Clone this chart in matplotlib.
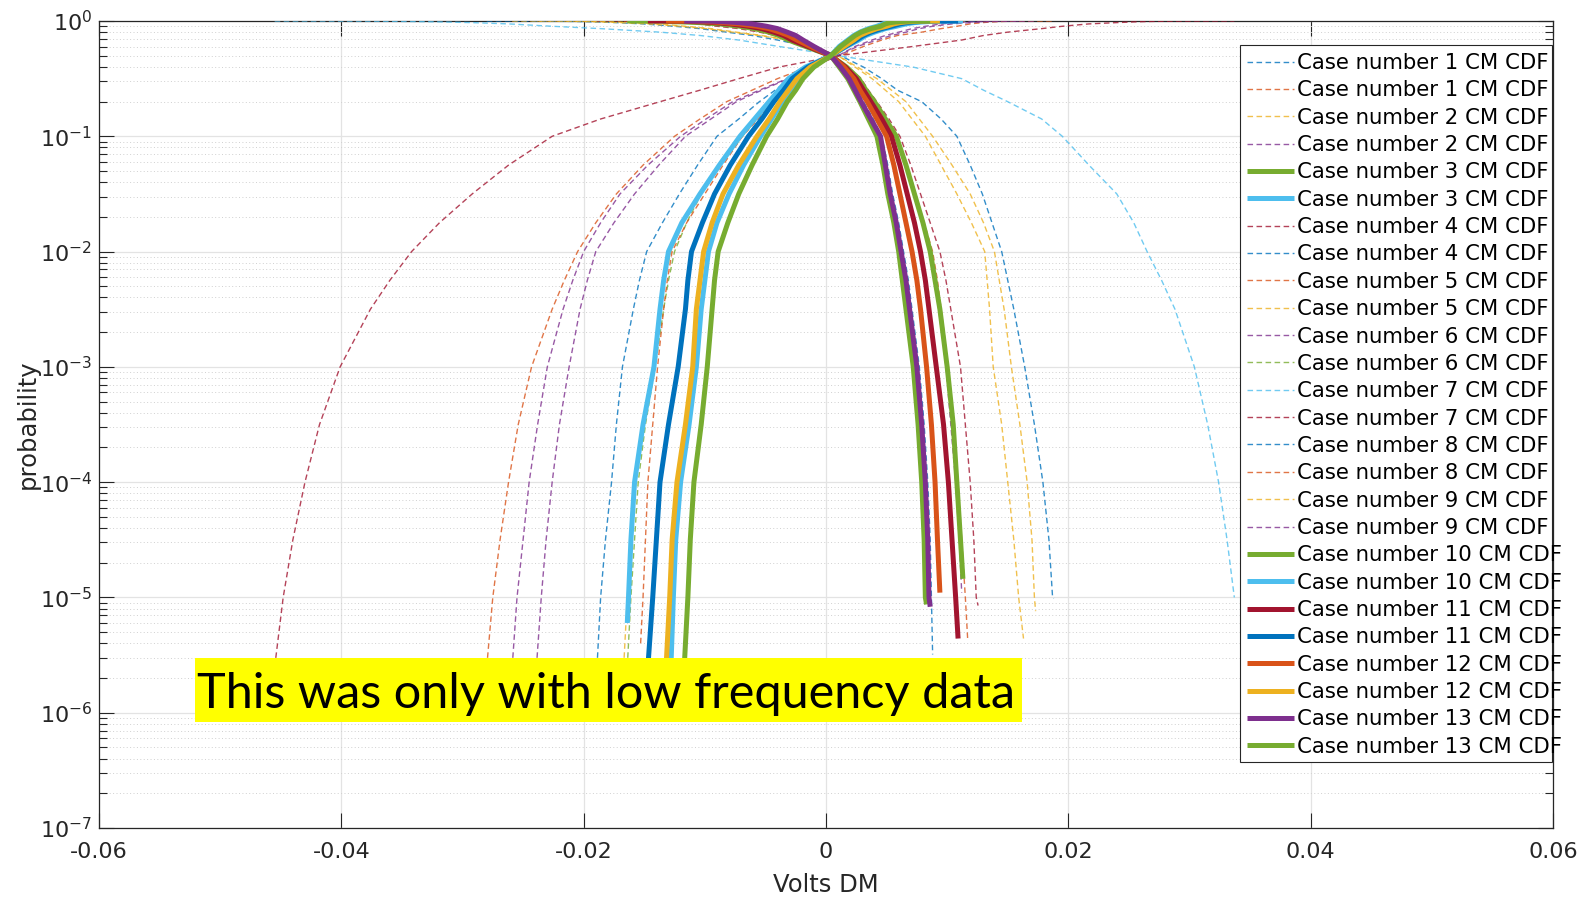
import numpy as np
import matplotlib

matplotlib.use("Agg")
import matplotlib.pyplot as plt
from matplotlib.patches import Rectangle
from matplotlib.ticker import FixedLocator, FuncFormatter, LogLocator, NullFormatter

# Each case is one empirical CDF: the "falling" line is 1-F, the "rising" one is F.
# Tails are read off the plot at fixed log10 probability levels.
CASES = list(range(1, 14))
LOG_LEVELS = [-5, -4.5, -4, -3.5, -3, -2.5, -2.25, -2, -1.75, -1.5, -1.25,
              -1, -0.85, -0.7, -0.6, -0.5, -0.4]

# x where F = 10**L (left tail, rising curve)
LOWER_TAIL_X = [
    [-0.0275, -0.0269, -0.0262, -0.0254, -0.0243, -0.0226, -0.0216, -0.0205, -0.0190, -0.0173, -0.0151, -0.0125, -0.0104, -0.0082, -0.0061, -0.0040, -0.0015],
    [-0.0255, -0.0250, -0.0245, -0.0238, -0.0230, -0.0217, -0.0209, -0.0200, -0.0186, -0.0170, -0.0147, -0.0120, -0.0099, -0.0077, -0.0055, -0.0032, -0.0013],
    [-0.0126, -0.0124, -0.0120, -0.0113, -0.0107, -0.0103, -0.0100, -0.0097, -0.0090, -0.0080, -0.0068, -0.0054, -0.0045, -0.0036, -0.0029, -0.0022, -0.0012],
    [-0.0186, -0.0182, -0.0177, -0.0173, -0.0168, -0.0159, -0.0154, -0.0148, -0.0135, -0.0121, -0.0106, -0.0090, -0.0072, -0.0055, -0.0042, -0.0030, -0.0015],
    [-0.0164, -0.0161, -0.0157, -0.0151, -0.0143, -0.0136, -0.0133, -0.0128, -0.0118, -0.0105, -0.0089, -0.0071, -0.0058, -0.0046, -0.0038, -0.0030, -0.0016],
    [-0.0161, -0.0158, -0.0155, -0.0149, -0.0141, -0.0134, -0.0130, -0.0125, -0.0115, -0.0103, -0.0087, -0.0069, -0.0057, -0.0045, -0.0037, -0.0029, -0.0015],
    [-0.0448, -0.0440, -0.0430, -0.0418, -0.0401, -0.0376, -0.0360, -0.0342, -0.0319, -0.0292, -0.0262, -0.0226, -0.0186, -0.0137, -0.0104, -0.0072, -0.0039],
    [-0.0151, -0.0149, -0.0147, -0.0143, -0.0139, -0.0134, -0.0131, -0.0127, -0.0115, -0.0100, -0.0085, -0.0069, -0.0056, -0.0045, -0.0036, -0.0028, -0.0014],
    [-0.0235, -0.0231, -0.0226, -0.0220, -0.0212, -0.0203, -0.0197, -0.0190, -0.0175, -0.0158, -0.0138, -0.0116, -0.0095, -0.0074, -0.0053, -0.0031, -0.0012],
    [-0.0163, -0.0161, -0.0158, -0.0151, -0.0142, -0.0137, -0.0134, -0.0130, -0.0119, -0.0104, -0.0088, -0.0071, -0.0059, -0.0047, -0.0039, -0.0031, -0.0017],
    [-0.0143, -0.0140, -0.0137, -0.0130, -0.0122, -0.0116, -0.0114, -0.0111, -0.0102, -0.0092, -0.0079, -0.0064, -0.0053, -0.0043, -0.0035, -0.0028, -0.0015],
    [-0.0129, -0.0127, -0.0123, -0.0116, -0.0110, -0.0107, -0.0104, -0.0101, -0.0094, -0.0085, -0.0072, -0.0057, -0.0047, -0.0038, -0.0031, -0.0024, -0.0013],
    [-0.0114, -0.0112, -0.0109, -0.0103, -0.0098, -0.0094, -0.0092, -0.0089, -0.0081, -0.0072, -0.0061, -0.0049, -0.0040, -0.0032, -0.0025, -0.0019, -0.0010],
]

# x where 1-F = 10**L (right tail, falling curve)
UPPER_TAIL_X = [
    [0.0187, 0.0184, 0.0179, 0.0172, 0.0164, 0.0155, 0.0150, 0.0145, 0.0137, 0.0129, 0.0119, 0.0108, 0.0095, 0.0079, 0.0059, 0.0046, 0.0031],
    [0.0172, 0.0170, 0.0166, 0.0160, 0.0153, 0.0147, 0.0143, 0.0139, 0.0130, 0.0119, 0.0104, 0.0088, 0.0077, 0.0066, 0.0054, 0.0042, 0.0026],
    [0.0082, 0.0081, 0.0079, 0.0076, 0.0072, 0.0066, 0.0063, 0.0060, 0.0056, 0.0051, 0.0047, 0.0042, 0.0035, 0.0028, 0.0023, 0.0018, 0.0011],
    [0.0124, 0.0122, 0.0119, 0.0115, 0.0111, 0.0103, 0.0099, 0.0094, 0.0086, 0.0078, 0.0070, 0.0061, 0.0052, 0.0042, 0.0035, 0.0029, 0.0018],
    [0.0115, 0.0112, 0.0109, 0.0105, 0.0101, 0.0095, 0.0092, 0.0088, 0.0081, 0.0074, 0.0067, 0.0059, 0.0050, 0.0041, 0.0034, 0.0028, 0.0017],
    [np.nan, 0.0110, 0.0107, 0.0103, 0.0099, 0.0093, 0.0090, 0.0086, 0.0080, 0.0073, 0.0066, 0.0058, 0.0049, 0.0040, 0.0033, 0.0027, 0.0017],
    [np.nan, 0.0331, 0.0324, 0.0315, 0.0304, 0.0288, 0.0277, 0.0265, 0.0254, 0.0240, 0.0217, 0.0195, 0.0178, 0.0150, 0.0130, 0.0112, 0.0072],
    [0.0087, 0.0086, 0.0084, 0.0081, 0.0077, 0.0071, 0.0068, 0.0064, 0.0060, 0.0055, 0.0051, 0.0046, 0.0039, 0.0031, 0.0025, 0.0020, 0.0013],
    [0.0159, 0.0155, 0.0150, 0.0145, 0.0138, 0.0135, 0.0133, 0.0131, 0.0120, 0.0108, 0.0095, 0.0082, 0.0071, 0.0060, 0.0049, 0.0038, 0.0024],
    [np.nan, 0.0111, 0.0108, 0.0105, 0.0100, 0.0094, 0.0090, 0.0086, 0.0080, 0.0073, 0.0066, 0.0058, 0.0049, 0.0040, 0.0033, 0.0027, 0.0017],
    [0.0107, 0.0104, 0.0101, 0.0097, 0.0091, 0.0085, 0.0082, 0.0078, 0.0073, 0.0067, 0.0061, 0.0054, 0.0046, 0.0037, 0.0031, 0.0025, 0.0016],
    [np.nan, 0.0092, 0.0090, 0.0087, 0.0083, 0.0078, 0.0075, 0.0071, 0.0066, 0.0061, 0.0056, 0.0050, 0.0042, 0.0034, 0.0028, 0.0023, 0.0015],
    [0.0085, 0.0084, 0.0082, 0.0079, 0.0075, 0.0069, 0.0066, 0.0062, 0.0058, 0.0053, 0.0049, 0.0045, 0.0037, 0.0029, 0.0024, 0.0019, 0.0012],
]

MEDIAN_X = [0.0012, 0.0010, 0.0004, 0.0005, 0.0004, 0.0004, 0.0010,
            0.0004, 0.0010, 0.0004, 0.0004, 0.0004, 0.0004]

# extreme samples (min and max of each record) and their tail probabilities
LOWER_END_X = [-0.0280, -0.0259, -0.0128, -0.0189, -0.0167, -0.0164, -0.0455,
               -0.0153, -0.0239, -0.0164, -0.0147, -0.0132, -0.0117]
LOWER_END_P = [2.5e-6, 2.5e-6, 2.5e-6, 2.5e-6, 2.5e-6, 2.5e-6, 2.5e-6,
               4.0e-6, 2.5e-6, 6.0e-6, 2.5e-6, 2.5e-6, 2.5e-6]
UPPER_END_X = [0.0188, 0.0173, 0.0083, 0.01255, 0.0117, 0.0112, 0.0337,
               0.0088, 0.0163, 0.0113, 0.0109, 0.0094, 0.0086]
UPPER_END_P = [9.8e-6, 7.6e-6, 8.7e-6, 8.5e-6, 4.2e-6, 1.1e-5, 1.0e-5,
               3.2e-6, 4.4e-6, 1.45e-5, 4.4e-6, 1.1e-5, 8.3e-6]

NOTE = "This was only with low frequency data"

# styles
MATLAB_COLORS = ["#0072BD", "#D95319", "#EDB120", "#7E2F8E",
                 "#77AC30", "#4DBEEE", "#A2142F"]
THICK_CASES = {3, 10, 11, 12, 13}

plt.rcParams["font.family"] = ["DejaVu Sans"]
plt.rcParams["axes.unicode_minus"] = False
TEXT = "#262626"
W, H = 1583, 897


def case_curves(i):
    """Return x, falling p (1-F) and rising p (F) for case index i."""
    lv = 10.0 ** np.array(LOG_LEVELS)
    lo = np.array(LOWER_TAIL_X[i], dtype=float)
    hi = np.array(UPPER_TAIL_X[i], dtype=float)
    lo_ok = ~np.isnan(lo)
    hi_ok = ~np.isnan(hi)

    x = np.concatenate([[LOWER_END_X[i]], lo[lo_ok], [MEDIAN_X[i]],
                        hi[hi_ok][::-1], [UPPER_END_X[i]]])
    f_lo = np.concatenate([[LOWER_END_P[i]], lv[lo_ok]])
    q_hi = np.concatenate([lv[hi_ok][::-1], [UPPER_END_P[i]]])

    rising = np.concatenate([f_lo, [0.5], 1.0 - q_hi])
    falling = np.concatenate([1.0 - f_lo, [0.5], q_hi])
    return x, falling, rising


fig = plt.figure(figsize=(W / 100, H / 100), dpi=100)
ax = fig.add_axes([99 / W, 1 - 828 / H, 1454 / W, 807 / H])

k = 0
for i, case in enumerate(CASES):
    x, falling, rising = case_curves(i)
    thick = case in THICK_CASES
    for p in (falling, rising):
        color = MATLAB_COLORS[k % len(MATLAB_COLORS)]
        label = f"Case number {case} CM CDF"
        # lines sit over the axes box, as in MATLAB
        if thick:
            ax.plot(x, p, color=color, lw=3.6, solid_capstyle="butt",
                    solid_joinstyle="round", zorder=3, label=label)
        else:
            ax.plot(x, p, color=color, lw=1.0, alpha=0.8, dashes=(4, 2.5),
                    zorder=3, label=label)
        k += 1

ax.set_yscale("log")
ax.set_xlim(-0.06, 0.06)
ax.set_ylim(1e-7, 1.0)

ax.xaxis.set_major_locator(FixedLocator(np.arange(-0.06, 0.061, 0.02)))
ax.xaxis.set_major_formatter(
    FuncFormatter(lambda v, _: "0" if abs(v) < 1e-9 else f"{v:.2f}"))
ax.yaxis.set_major_locator(LogLocator(base=10, numticks=20))
ax.yaxis.set_minor_locator(LogLocator(base=10, subs=np.arange(2, 10), numticks=20))
ax.yaxis.set_minor_formatter(NullFormatter())

ax.tick_params(which="both", direction="in", top=True, right=True,
               colors=TEXT, width=0.8, labelsize=16)
ax.tick_params(which="major", length=10.5)
ax.tick_params(which="minor", length=6)
ax.tick_params(axis="x", pad=10)
ax.tick_params(axis="y", pad=5)
for side in ax.spines.values():
    side.set_color(TEXT)
    side.set_linewidth(0.9)

ax.set_axisbelow(True)
ax.grid(True, which="major", color="#e3e3e3", lw=0.9)
ax.grid(True, which="minor", axis="y", color="#d0d0d0", lw=0.7,
        linestyle=(0, (1, 2.5)))

ax.set_xlabel("Volts DM", fontsize=17.5, color=TEXT, labelpad=8)
ax.set_ylabel("probability", fontsize=17.5, color=TEXT)
ax.yaxis.set_label_coords(-0.041, 0.5)

# legend frame as MATLAB draws it: the long labels run past the box edge
ax.add_patch(Rectangle((1240 / W, 1 - 762 / H), 312 / W, 717 / H,
                       transform=fig.transFigure, facecolor="white",
                       edgecolor=TEXT, lw=0.8, zorder=4, clip_on=False))
leg = ax.legend(loc="upper left", bbox_to_anchor=((1247 - 99) / 1454, (828 - 53) / 807),
                borderaxespad=0, borderpad=0, fontsize=15.3, handlelength=2.2,
                handletextpad=0.15, labelspacing=0.346, frameon=False)
leg.set_zorder(5)

# yellow call-out pasted over the chart
fig.add_artist(Rectangle((195 / W, 1 - 722 / H), 827 / W, 64 / H,
                         transform=fig.transFigure, facecolor="#FFFF00",
                         edgecolor="none", zorder=10))
fig.text(197 / W, 1 - 694 / H, NOTE, ha="left", va="center",
         fontsize=35, family=["Lato", "DejaVu Sans"], color="black", zorder=11)

fig.savefig("out.png", dpi=100, facecolor="white")
